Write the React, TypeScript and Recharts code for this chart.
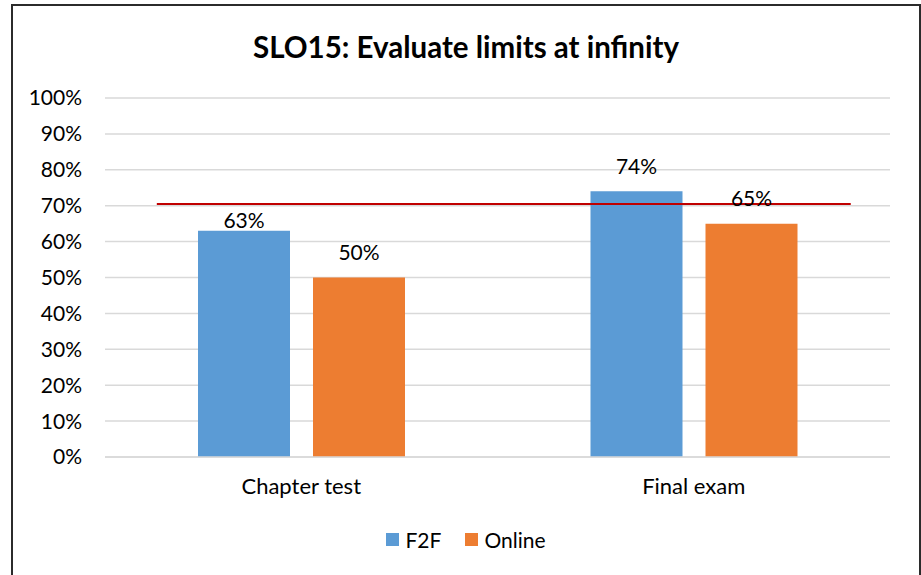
import { BarChart, Bar, XAxis, YAxis, CartesianGrid, LabelList, ReferenceLine } from "recharts";

const categories = ["Chapter test", "Final exam"];
const f2f = [63, 74];
const online = [50, 65];
const yTicks = [0, 10, 20, 30, 40, 50, 60, 70, 80, 90, 100];
const target = 70.5;

const data = categories.map((name, i) => ({ name, f2f: f2f[i], online: online[i] }));

const FONT = "Lato, 'Noto Sans', sans-serif";
const BLUE = "#5B9BD5";
const ORANGE = "#ED7D31";

// label lift above the bar top, per category
const f2fLift = [10, 25];
const onlineLift = [25, 25];

function makeLabel(lift: number[]) {
  return (props: any) => {
    const { x, y, width, value, index } = props;
    return (
      <text
        x={Number(x) + Number(width) / 2}
        y={Number(y) - lift[index]}
        dy="0.35em"
        textAnchor="middle"
        fill="#000"
        fontSize={21}
        fontFamily={FONT}
      >
        {`${value}%`}
      </text>
    );
  };
}

// the target line is drawn shorter than the plot, like the hand-drawn one in the source
function TargetLine(props: any) {
  const { x1, x2, y1 } = props;
  const w = x2 - x1;
  return <line x1={x1 + w * 0.066} x2={x1 + w * 0.95} y1={y1} y2={y1} stroke="#C00000" strokeWidth={2} />;
}

function LegendBox() {
  const items = [
    { label: "F2F", color: BLUE },
    { label: "Online", color: ORANGE },
  ];
  return (
    <div
      style={{
        position: "absolute",
        top: 521,
        left: 0,
        width: 906,
        display: "flex",
        justifyContent: "center",
        fontFamily: FONT,
        fontSize: 21,
        color: "#000",
      }}
    >
      {items.map((it, i) => (
        <div key={it.label} style={{ display: "flex", alignItems: "center", marginLeft: i ? 24 : 0 }}>
          <span style={{ width: 13, height: 13, background: it.color, display: "inline-block", marginRight: 6 }} />
          <span>{it.label}</span>
        </div>
      ))}
    </div>
  );
}

export default function App() {
  return (
    <div
      style={{
        position: "absolute",
        left: 11,
        top: 4,
        width: 906,
        height: 569,
        border: "2px solid #2b2b2b",
        background: "#fff",
      }}
    >
      <div
        style={{
          position: "absolute",
          top: 23,
          left: 0,
          width: 906,
          textAlign: "center",
          fontFamily: FONT,
          fontWeight: 700,
          fontSize: 29.5,
          color: "#000",
        }}
      >
        SLO15: Evaluate limits at infinity
      </div>
      <BarChart
        width={906}
        height={569}
        data={data}
        margin={{ top: 92, right: 29, bottom: 78, left: 22 }}
        barCategoryGap="23.7%"
        barGap={23}
      >
        <CartesianGrid vertical={false} stroke="#d9d9d9" strokeWidth={1.5} />
        <XAxis
          dataKey="name"
          axisLine={{ stroke: "#d9d9d9", strokeWidth: 1.5 }}
          tickLine={false}
          tickSize={0}
          tickMargin={21}
          height={40}
          tick={{ fill: "#000", fontSize: 22, fontFamily: FONT }}
        />
        <YAxis
          domain={[0, 100]}
          ticks={yTicks}
          width={70}
          axisLine={false}
          tickLine={false}
          tickSize={0}
          tickMargin={23}
          tickFormatter={(v) => `${v}%`}
          tick={{ fill: "#000", fontSize: 21, fontFamily: FONT }}
        />
        <Bar dataKey="f2f" name="F2F" fill={BLUE} barSize={92} isAnimationActive={false}>
          <LabelList dataKey="f2f" content={makeLabel(f2fLift)} />
        </Bar>
        <Bar dataKey="online" name="Online" fill={ORANGE} barSize={92} isAnimationActive={false}>
          <LabelList dataKey="online" content={makeLabel(onlineLift)} />
        </Bar>
        <ReferenceLine y={target} shape={TargetLine} />
      </BarChart>
      <LegendBox />
    </div>
  );
}
